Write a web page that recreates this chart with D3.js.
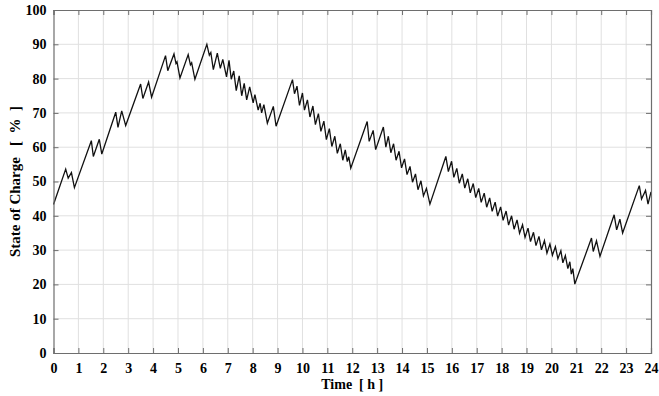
<!DOCTYPE html>
<html>
<head>
<meta charset="utf-8">
<script src="https://cdn.jsdelivr.net/npm/d3@7"></script>
<style>
  html, body { margin: 0; padding: 0; background: #fff; }
  svg { display: block; }
  .tick text { font-family: "Liberation Serif", "Times New Roman", serif; font-weight: bold; font-size: 14px; fill: #000; }
</style>
</head>
<body>
<svg id="chart" width="659" height="396"></svg>
<script>
// State of charge over one day: vertex times (h) and SOC values (%)
const hours = [
  0.00, 0.49, 0.59, 0.72, 0.84, 1.52, 1.60, 1.84, 1.94, 2.50, 2.59, 2.74, 2.90,
  3.50, 3.59, 3.82, 3.94, 4.50, 4.59, 4.84, 4.92, 4.96, 5.08, 5.41, 5.50, 5.55, 5.68,
  6.16, 6.26, 6.32, 6.42, 6.58, 6.70, 6.80, 6.95, 7.05, 7.14, 7.24, 7.34, 7.46, 7.56,
  7.66, 7.76, 7.88, 8.02, 8.09, 8.22, 8.30, 8.36, 8.45, 8.59, 8.83, 8.94,
  9.60, 9.68, 9.78, 9.88, 10.00, 10.08, 10.20, 10.30, 10.42, 10.52, 10.64, 10.74,
  10.86, 10.96, 11.08, 11.18, 11.30, 11.40, 11.52, 11.62, 11.72, 11.80, 11.86, 11.94,
  12.60, 12.68, 12.84, 12.94, 13.25, 13.35, 13.45, 13.55, 13.66, 13.76, 13.88, 13.98,
  14.10, 14.20, 14.32, 14.42, 14.54, 14.64, 14.76, 14.86, 14.98, 15.12,
  15.76, 15.86, 15.99, 16.08, 16.20, 16.30, 16.42, 16.52, 16.64, 16.74, 16.86, 16.96,
  17.08, 17.18, 17.30, 17.40, 17.52, 17.62, 17.74, 17.84, 17.96, 18.06, 18.18, 18.28,
  18.40, 18.50, 18.62, 18.72, 18.84, 18.94, 19.06, 19.16, 19.28, 19.38, 19.50, 19.60,
  19.72, 19.82, 19.94, 20.04, 20.16, 20.26, 20.38, 20.46, 20.56, 20.66, 20.74, 20.80,
  20.86, 20.94,
  21.61, 21.68, 21.81, 21.95, 22.52, 22.62, 22.75, 22.86, 23.53, 23.62, 23.78, 23.88, 24.00
];
const soc = [
  43.3, 53.6, 51.0, 52.6, 48.2, 61.9, 57.3, 62.3, 58.0, 70.2, 65.8, 70.6, 66.3,
  78.4, 74.2, 79.0, 74.6, 86.7, 82.3, 87.2, 84.4, 84.9, 80.2, 87.0, 84.0, 84.6, 79.8,
  90.0, 86.8, 87.6, 82.6, 87.4, 83.0, 85.6, 80.5, 85.3, 79.8, 82.2, 76.5, 80.8, 75.0,
  78.6, 73.8, 77.6, 72.9, 75.3, 70.8, 72.8, 70.0, 72.4, 67.0, 71.9, 66.1,
  79.7, 75.6, 77.8, 72.2, 75.8, 70.8, 73.8, 68.8, 72.0, 66.6, 69.8, 64.6,
  67.6, 62.2, 65.4, 60.2, 63.2, 58.2, 61.0, 56.2, 59.2, 55.8, 57.2, 53.9,
  67.5, 61.7, 64.9, 59.3, 65.9, 60.0, 63.2, 58.4, 61.0, 56.2, 58.8, 54.0,
  56.6, 52.0, 54.4, 49.8, 52.2, 47.6, 50.2, 45.8, 48.0, 43.4,
  57.3, 52.9, 55.9, 51.2, 53.8, 49.5, 52.2, 48.1, 50.8, 46.7, 49.4, 45.3,
  48.0, 43.9, 46.6, 42.5, 45.2, 41.3, 44.0, 39.9, 42.6, 38.7, 41.4, 37.3,
  40.0, 36.1, 38.8, 34.9, 37.4, 33.7, 36.4, 32.5, 35.2, 31.3, 34.0, 30.1,
  32.8, 29.1, 31.8, 28.5, 31.0, 27.5, 29.8, 26.3, 28.4, 24.6, 26.6, 23.0,
  24.6, 20.1,
  33.5, 29.6, 32.7, 28.2, 40.3, 35.9, 39.0, 35.0, 48.8, 44.9, 47.4, 43.4, 47.0
];
const xTicks = d3.range(0, 25, 1);
const yTicks = d3.range(0, 101, 10);

const svg = d3.select("#chart");
const margin = { left: 53.5, right: 8, top: 10, bottom: 43 };
const W = 659, H = 396;
const x = d3.scaleLinear().domain([0, 24]).range([margin.left, W - margin.right]);
const y = d3.scaleLinear().domain([0, 100]).range([H - margin.bottom, margin.top]);

// grid
const grid = svg.append("g");
grid.selectAll("line.gx").data(xTicks.slice(1, -1)).join("line")
  .attr("x1", d => x(d)).attr("x2", d => x(d))
  .attr("y1", y(0)).attr("y2", y(100))
  .attr("stroke", "#e0e0e0").attr("stroke-width", 1);
grid.selectAll("line.gy").data(yTicks.slice(1, -1)).join("line")
  .attr("y1", d => y(d)).attr("y2", d => y(d))
  .attr("x1", x(0)).attr("x2", x(24))
  .attr("stroke", "#e0e0e0").attr("stroke-width", 1);

// SOC trace
const line = d3.line().x((d, i) => x(hours[i])).y(d => y(d));
svg.append("path").datum(soc)
  .attr("d", line)
  .attr("fill", "none").attr("stroke", "#111").attr("stroke-width", 1.3)
  .attr("stroke-linejoin", "miter");

// axes with inward ticks
const axisColor = "#6e6e6e";
const gx = svg.append("g").attr("transform", `translate(0,${y(0)})`)
  .call(d3.axisBottom(x).tickValues(xTicks).tickFormat(d3.format("d")).tickSize(-5).tickPadding(10));
const gy = svg.append("g").attr("transform", `translate(${x(0)},0)`)
  .call(d3.axisLeft(y).tickValues(yTicks).tickFormat(d3.format("d")).tickSize(-5).tickPadding(7));
const gxt = svg.append("g").attr("transform", `translate(0,${y(100)})`)
  .call(d3.axisTop(x).tickValues(xTicks).tickFormat("").tickSize(-5));
const gyr = svg.append("g").attr("transform", `translate(${x(24)},0)`)
  .call(d3.axisRight(y).tickValues(yTicks).tickFormat("").tickSize(-5));
[gx, gy, gxt, gyr].forEach(g => {
  g.select(".domain").attr("stroke", axisColor).attr("stroke-width", 1.2);
  g.selectAll(".tick line").attr("stroke", axisColor);
});

// axis titles
svg.append("text")
  .attr("x", (x(0) + x(24)) / 2).attr("y", 389)
  .attr("text-anchor", "middle")
  .attr("font-family", "Liberation Serif, Times New Roman, serif")
  .attr("font-weight", "bold").attr("font-size", 14)
  .attr("xml:space", "preserve")
  .text("Time  [ h ]");
svg.append("text")
  .attr("transform", `translate(20,${(y(0) + y(100)) / 2}) rotate(-90)`)
  .attr("text-anchor", "middle")
  .attr("font-family", "Liberation Serif, Times New Roman, serif")
  .attr("font-weight", "bold").attr("font-size", 15)
  .attr("xml:space", "preserve")
  .text("State of Charge   [  %  ]");
</script>
</body>
</html>
